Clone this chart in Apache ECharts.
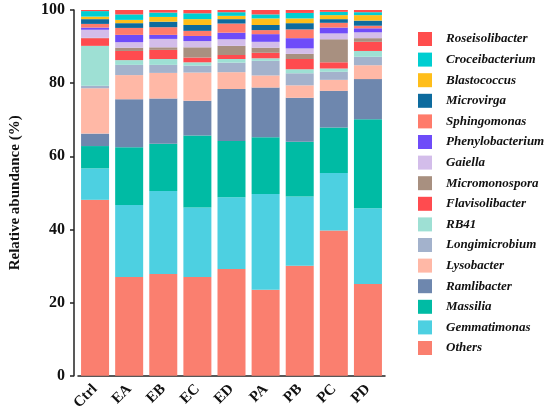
<!DOCTYPE html>
<html>
<head>
<meta charset="utf-8">
<script src="https://cdn.jsdelivr.net/npm/echarts@6/dist/echarts.min.js"></script>
<style>
  html, body { margin: 0; padding: 0; background: #fff; }
  #chart { width: 550px; height: 413px; }
</style>
</head>
<body>
<div id="chart"></div>
<script>
// 样本
const samples = ['Ctrl', 'EA', 'EB', 'EC', 'ED', 'PA', 'PB', 'PC', 'PD'];

// 各属相对丰度 (%)，自下而上堆叠
const others = [48.1, 27.0, 27.8, 27.0, 29.2, 23.5, 30.1, 39.7, 25.1];
const gemmatimonas = [8.6, 19.7, 22.7, 19.0, 19.6, 26.2, 18.9, 15.7, 20.7];
const massilia = [6.1, 15.8, 12.9, 19.7, 15.4, 15.5, 15.0, 12.5, 24.3];
const ramlibacter = [3.4, 13.1, 12.4, 9.5, 14.2, 13.6, 12.0, 10.0, 11.0];
const lysobacter = [12.4, 6.6, 7.0, 7.7, 4.6, 3.3, 3.4, 3.0, 3.8];
const longimicrobium = [0.7, 2.8, 2.2, 1.9, 2.6, 4.0, 3.3, 2.2, 2.3];
const rb41 = [10.9, 1.3, 1.6, 0.9, 1.0, 0.7, 1.1, 0.9, 1.6];
const flavisolibacter = [2.1, 2.5, 2.5, 1.3, 1.1, 1.5, 2.8, 1.7, 2.5];
const micromonospora = [0.1, 0.9, 0.7, 2.8, 2.5, 1.4, 1.4, 6.3, 1.0];
const gaiella = [2.2, 1.5, 2.3, 1.7, 1.8, 1.6, 1.5, 1.6, 1.6];
const phenylobacterium = [0.6, 2.0, 1.1, 1.4, 1.8, 2.1, 2.8, 1.6, 1.1];
const sphingomonas = [1.0, 1.9, 2.1, 1.4, 2.5, 1.1, 2.4, 1.3, 0.7];
const microvirga = [1.3, 1.3, 1.5, 1.6, 1.2, 1.4, 1.7, 1.0, 1.4];
const blastococcus = [0.7, 0.9, 1.3, 1.6, 0.9, 1.8, 1.3, 1.1, 1.5];
const croceibacterium = [1.5, 1.5, 1.2, 1.6, 1.0, 1.1, 1.5, 0.9, 0.8];
const roseisolibacter = [0.4, 1.2, 0.7, 0.9, 0.6, 1.2, 0.8, 0.5, 0.6];

const yTicks = [0, 20, 40, 60, 80, 100];

const layers = [
  { name: 'Others', data: others, color: '#FA7F6F' },
  { name: 'Gemmatimonas', data: gemmatimonas, color: '#4DD0E1' },
  { name: 'Massilia', data: massilia, color: '#00BBA4' },
  { name: 'Ramlibacter', data: ramlibacter, color: '#6E87AE' },
  { name: 'Lysobacter', data: lysobacter, color: '#FFB8A6' },
  { name: 'Longimicrobium', data: longimicrobium, color: '#A3B2CC' },
  { name: 'RB41', data: rb41, color: '#9EE0D4' },
  { name: 'Flavisolibacter', data: flavisolibacter, color: '#FF4B4F' },
  { name: 'Micromonospora', data: micromonospora, color: '#A89080' },
  { name: 'Gaiella', data: gaiella, color: '#D3BDEA' },
  { name: 'Phenylobacterium', data: phenylobacterium, color: '#6E4CF9' },
  { name: 'Sphingomonas', data: sphingomonas, color: '#FF7B6B' },
  { name: 'Microvirga', data: microvirga, color: '#0D6B9E' },
  { name: 'Blastococcus', data: blastococcus, color: '#FFBE1A' },
  { name: 'Croceibacterium', data: croceibacterium, color: '#00CED1' },
  { name: 'Roseisolibacter', data: roseisolibacter, color: '#FF4D4D' },
];

const FONT = '"Liberation Serif", "Times New Roman", serif';
const chart = echarts.init(document.getElementById('chart'));

chart.setOption({
  animation: false,
  grid: { left: 71, right: 165, top: 10, bottom: 37 },
  legend: {
    orient: 'vertical',
    left: 418,
    top: 32,
    padding: 0,
    itemWidth: 14,
    itemHeight: 14,
    itemGap: 6.6,
    icon: 'rect',
    data: layers.map(l => l.name).reverse(),
    textStyle: {
      fontFamily: FONT, fontSize: 13, fontWeight: 'bold', fontStyle: 'italic',
      color: '#111', padding: [0, 0, 0, 9],
    },
  },
  xAxis: {
    type: 'category',
    data: samples,
    axisLine: { lineStyle: { color: '#222', width: 1.5 } },
    axisTick: { alignWithLabel: true, length: 5, lineStyle: { color: '#222', width: 1.5 } },
    axisLabel: {
      rotate: 45, margin: 11, color: '#111',
      fontFamily: FONT, fontSize: 15, fontWeight: 'bold',
    },
  },
  yAxis: {
    type: 'value',
    min: 0, max: 100, interval: 20,
    offset: 4,
    name: 'Relative abundance (%)',
    nameLocation: 'middle',
    nameGap: 51,
    nameTextStyle: { fontFamily: FONT, fontSize: 15, fontWeight: 'bold', color: '#111' },
    axisLine: { show: true, lineStyle: { color: '#222', width: 1.5 } },
    axisTick: { show: true, length: 4, lineStyle: { color: '#222', width: 1.5 } },
    splitLine: { show: false },
    axisLabel: {
      margin: 9, color: '#111',
      fontFamily: FONT, fontSize: 16, fontWeight: 'bold',
      formatter: v => (yTicks.includes(v) ? String(v) : ''),
    },
  },
  series: layers.map(l => ({
    name: l.name,
    type: 'bar',
    stack: 'total',
    data: l.data,
    barWidth: 28,
    itemStyle: { color: l.color },
  })),
});
</script>
</body>
</html>
